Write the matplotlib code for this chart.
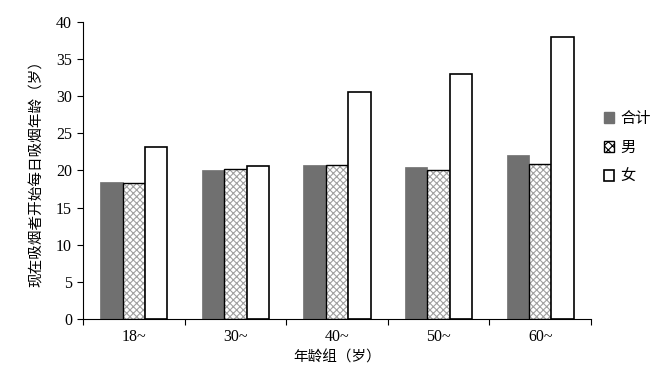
import numpy as np
import matplotlib
matplotlib.use("Agg")
import matplotlib.pyplot as plt
from matplotlib.patches import Patch

plt.rcParams['font.family'] = ['Liberation Serif', 'Noto Sans CJK SC']
plt.rcParams['hatch.linewidth'] = 0.8

# data
groups = ['18~', '30~', '40~', '50~', '60~']
total = [18.4, 20.1, 20.7, 20.4, 22.0]
male = [18.3, 20.2, 20.7, 20.0, 20.9]
female = [23.2, 20.6, 30.6, 33.0, 37.9]

fig = plt.figure(figsize=(6.61, 3.82), dpi=100)
ax = fig.add_axes([83 / 661, 63 / 382, 508 / 661, 297.3 / 382])

x = np.arange(len(groups))
w = 0.22

ax.bar(x - w, total, w, color='#707070', edgecolor='#707070', linewidth=0.5)
# hatched male bars: hatch in gray, then black outline on top
ax.bar(x, male, w, color='white', edgecolor='#a0a0a0', hatch='xxxxx', linewidth=0)
ax.bar(x, male, w, fill=False, edgecolor='black', linewidth=1.0)
ax.bar(x + w, female, w, color='white', edgecolor='black', linewidth=1.2)

ax.set_xlim(-0.5, len(groups) - 0.5)
ax.set_ylim(0, 40)
ax.set_yticks(range(0, 41, 5))
ax.set_xticks(np.arange(-0.5, len(groups), 1.0), minor=False)
ax.set_xticklabels([])
ax.set_xticks(x, minor=True)
ax.set_xticklabels(groups, minor=True, fontsize=11.5)
ax.tick_params(axis='x', which='minor', length=0, pad=7)
ax.tick_params(axis='x', which='major', direction='out', length=4, width=0.8)
ax.tick_params(axis='y', direction='out', length=4, width=0.8, labelsize=11.5, pad=4)

for s in ['top', 'right']:
    ax.spines[s].set_visible(False)
ax.spines['left'].set_linewidth(0.8)
ax.spines['bottom'].set_linewidth(0.8)

ax.set_xlabel('年龄组（岁）', fontsize=10.5, labelpad=4)
ax.set_ylabel('现在吸烟者开始每日吸烟年龄（岁）', fontsize=10.5, labelpad=9)

handles = [
    Patch(facecolor='#707070', edgecolor='#707070', label='合计'),
    Patch(facecolor='white', edgecolor='black', hatch='xxxx', label='男'),
    Patch(facecolor='white', edgecolor='black', linewidth=1.2, label='女'),
]
fig.legend(handles=handles, loc='upper left', bbox_to_anchor=(590 / 661, 1 - 98 / 382),
           frameon=False, fontsize=11, handlelength=0.7, handleheight=0.7,
           handletextpad=0.4, labelspacing=1.0)

fig.savefig('out.png', dpi=100)
